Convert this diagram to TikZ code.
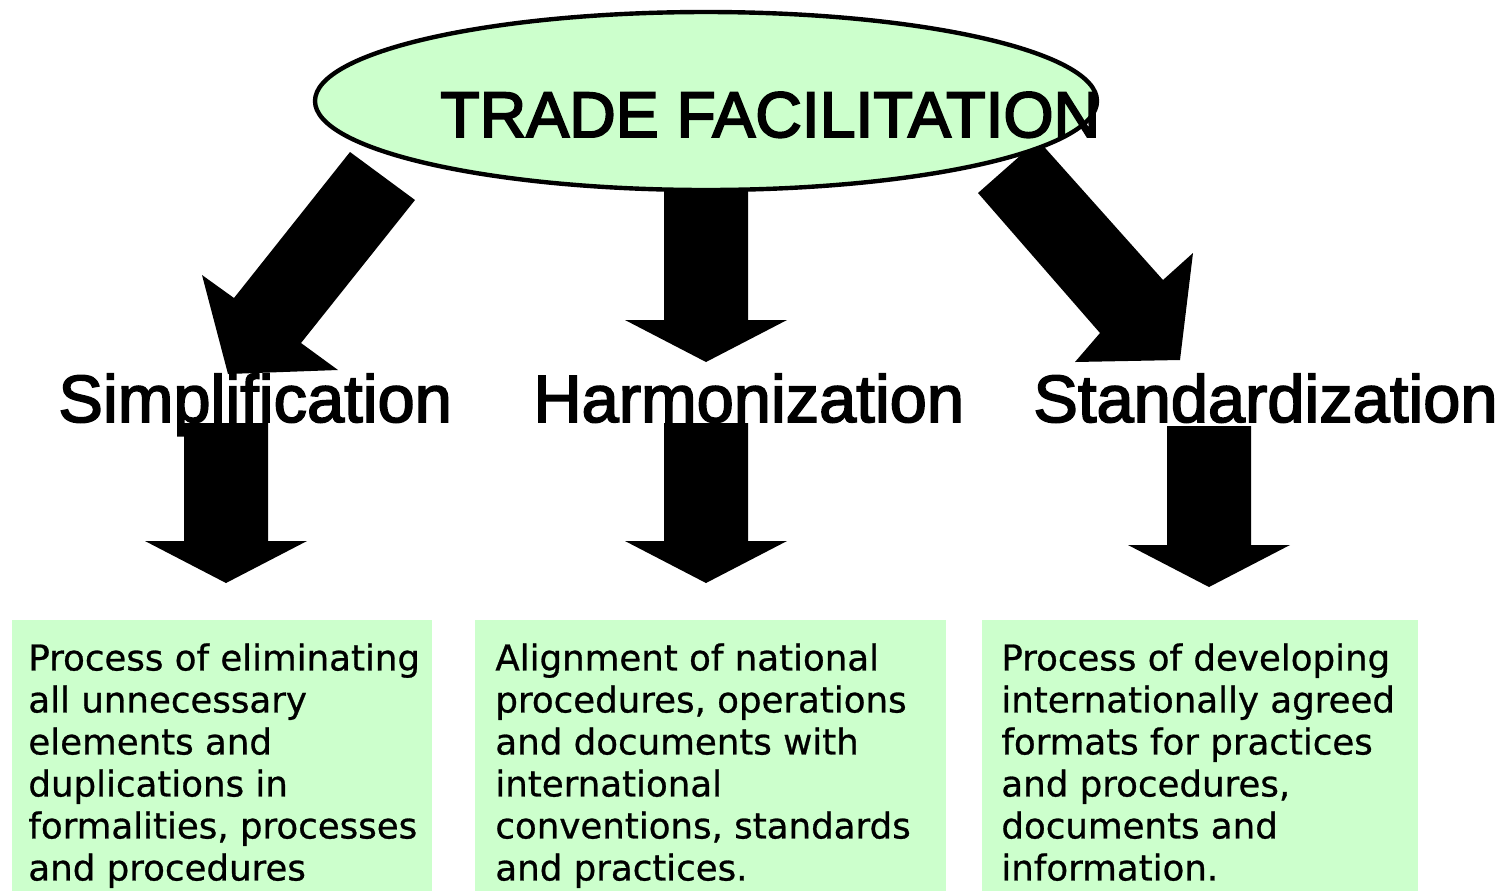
\documentclass[tikz,border=0pt]{standalone}
\usepackage{fontspec}
\usepackage{tikz}
\usetikzlibrary{shapes.geometric}
\setmainfont{Liberation Sans}
\newfontfamily\titlefont[FakeBold=3]{Liberation Sans}
\newfontfamily\branchfont[FakeBold=2.5]{Liberation Sans}
\newfontfamily\boxfont[FakeBold=0.8]{DejaVu Sans}
\definecolor{paleGreen}{HTML}{CCFFCC}
% vertical block arrow: centre x, top y, tip y
\newcommand{\blockdown}[3]{%
  \fill (#1-42,#2) -- (#1+42,#2) -- (#1+42,#3-42) -- (#1+81,#3-42)
    -- (#1,#3) -- (#1-81,#3-42) -- (#1-42,#3-42) -- cycle;}

\begin{document}
\begin{tikzpicture}[x=0.5pt, y=-0.5pt]
  \tikzset{
    topic/.style={ellipse, draw=black, line width=2.2pt, fill=paleGreen,
      minimum width=391pt, minimum height=89pt, inner sep=0pt},
    title text/.style={font=\titlefont\fontsize{32.2}{36}\selectfont, inner sep=0pt},
    branch/.style={font=\branchfont\fontsize{33.4}{38}\selectfont, inner sep=0pt},
    descbox/.style={fill=paleGreen, inner sep=0pt, minimum height=135.5pt,
      anchor=north west},
    desctext/.style={align=left, inner sep=0pt, anchor=north west,
      font=\boxfont\fontsize{17.8}{21}\selectfont}
  }
  \useasboundingbox (0,0) rectangle (1506,891);

  % arrows from the topic
  \fill (350,152) -- (415,200) -- (301,343) -- (338,370) -- (228,374)
    -- (202,275) -- (234,298) -- cycle;
  \blockdown{706}{150}{362}
  \fill (978,193) -- (1038,140) -- (1163,280) -- (1193,253) -- (1180,360)
    -- (1075,362) -- (1100,333) -- cycle;

  \node[topic] (tf) at (706,101) {};
  \node[title text, anchor=base west] (tftext) at (440,137) {TRADE FACILITATION};

  \node[branch, anchor=base west] (simp) at (58,422) {Simplification};
  \node[branch, anchor=base west] (harm) at (533,422) {Harmonization};
  \node[branch, anchor=base west] (stan) at (1033,422) {Standardization};

  % arrows to the descriptions
  \blockdown{226}{423}{583}
  \blockdown{706}{423}{583}
  \blockdown{1209}{426}{587}

  \node[descbox, minimum width=210pt] (simpbox) at (12,620) {};
  \node[descbox, minimum width=235.5pt] (harmbox) at (475,620) {};
  \node[descbox, minimum width=218pt] (stanbox) at (982,620) {};

  \node[desctext] (simptext) at ([shift={(16,23)}]simpbox.north west)
    {Process of eliminating\\all unnecessary\\elements and\\duplications in\\formalities, processes\\and procedures};
  \node[desctext] (harmtext) at ([shift={(20,23)}]harmbox.north west)
    {Alignment of national\\procedures, operations\\and documents with\\international\\conventions, standards\\and practices.};
  \node[desctext] (stantext) at ([shift={(19,23)}]stanbox.north west)
    {Process of developing\\internationally agreed\\formats for practices\\and procedures,\\documents and\\information.};
\end{tikzpicture}
\end{document}
